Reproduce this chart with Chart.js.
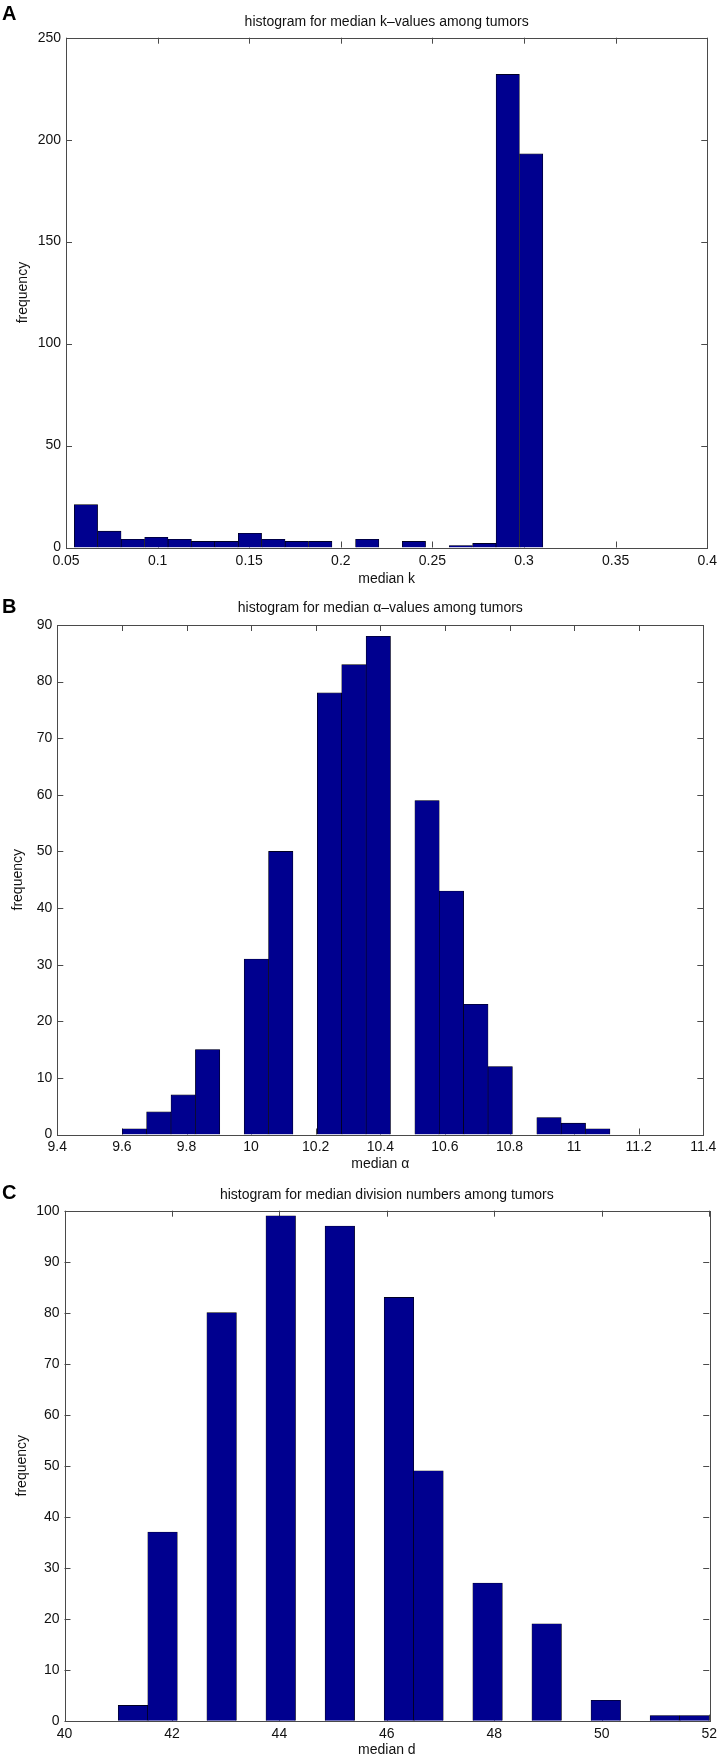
<!DOCTYPE html>
<html>
<head>
<meta charset="utf-8">
<script src="https://cdn.jsdelivr.net/npm/chart.js@4.4.1/dist/chart.umd.min.js"></script>
<style>
  html, body { margin: 0; padding: 0; background: #fff; }
  body { width: 722px; height: 1759px; position: relative; overflow: hidden; }
  canvas { position: absolute; left: 0; }
</style>
</head>
<body>
<canvas id="panelA" width="722" height="588" style="top:0px"></canvas>
<canvas id="panelB" width="722" height="583" style="top:590px"></canvas>
<canvas id="panelC" width="722" height="584" style="top:1175px"></canvas>
<script>
// A: median k (bin centres and counts)
const kBins = [0.0609, 0.0737, 0.0865, 0.0993, 0.1121, 0.1248, 0.1376, 0.1504, 0.1632, 0.1760,
               0.1888, 0.2016, 0.2144, 0.2272, 0.2399, 0.2527, 0.2655, 0.2783, 0.2911, 0.3039];
const kCounts = [21, 8, 4, 5, 4, 3, 3, 7, 4, 3, 3, 0, 4, 0, 3, 0, 1, 2, 232, 193];
const kTicks = [0.05, 0.1, 0.15, 0.2, 0.25, 0.3, 0.35, 0.4];
const kFreqTicks = [0, 50, 100, 150, 200, 250];

// B: median alpha
const alphaBins = [9.6388, 9.7143, 9.7898, 9.8653, 9.9408, 10.0163, 10.0918, 10.1673, 10.2428, 10.3183,
                   10.3938, 10.4693, 10.5448, 10.6203, 10.6958, 10.7713, 10.8468, 10.9223, 10.9978, 11.0733];
const alphaCounts = [1, 4, 7, 15, 0, 31, 50, 0, 78, 83, 88, 0, 59, 43, 23, 12, 0, 3, 2, 1];
const alphaTicks = [9.4, 9.6, 9.8, 10, 10.2, 10.4, 10.6, 10.8, 11, 11.2, 11.4];
const alphaFreqTicks = [0, 10, 20, 30, 40, 50, 60, 70, 80, 90];

// C: median division numbers
const dBins = [41.275, 41.825, 42.375, 42.925, 43.475, 44.025, 44.575, 45.125, 45.675, 46.225,
               46.775, 47.325, 47.875, 48.425, 48.975, 49.525, 50.075, 50.625, 51.175, 51.725];
const dCounts = [3, 37, 0, 80, 0, 99, 0, 97, 0, 83, 49, 0, 27, 0, 19, 0, 4, 0, 1, 1];
const dTicks = [40, 42, 44, 46, 48, 50, 52];
const dFreqTicks = [0, 10, 20, 30, 40, 50, 60, 70, 80, 90, 100];

const FONT = "'Liberation Sans', Arial, Helvetica, sans-serif";
const axisColor = '#4a4a4a';
const textColor = '#111';
const barColor = '#00008f';

// matlab style box: ticks pointing inwards on all four sides, title and panel letter
const matlabBox = {
  id: 'matlabBox',
  beforeDatasetsDraw(chart) {
    const { ctx, chartArea: a, scales: { x, y } } = chart;
    ctx.save();
    ctx.strokeStyle = axisColor;
    ctx.lineWidth = 1;
    ctx.beginPath();
    x.ticks.forEach(t => {
      const px = Math.round(x.getPixelForValue(t.value)) + 0.5;
      ctx.moveTo(px, a.bottom); ctx.lineTo(px, a.bottom - 6);
      ctx.moveTo(px, a.top); ctx.lineTo(px, a.top + 6);
    });
    y.ticks.forEach(t => {
      const py = Math.round(y.getPixelForValue(t.value)) + 0.5;
      ctx.moveTo(a.left, py); ctx.lineTo(a.left + 6, py);
      ctx.moveTo(a.right, py); ctx.lineTo(a.right - 6, py);
    });
    ctx.stroke();
    ctx.restore();
  },
  afterDatasetsDraw(chart, args, opts) {
    const { ctx, chartArea: a } = chart;
    ctx.save();
    ctx.strokeStyle = axisColor;
    ctx.lineWidth = 1;
    ctx.strokeRect(Math.round(a.left) + 0.5, Math.round(a.top) + 0.5,
                   Math.round(a.right - a.left), Math.round(a.bottom - a.top));
    ctx.fillStyle = textColor;
    ctx.textBaseline = 'middle';
    ctx.textAlign = 'center';
    ctx.font = '14px ' + FONT;
    ctx.fillText(opts.title, (a.left + a.right) / 2, opts.titleY);
    ctx.textAlign = 'left';
    ctx.font = 'bold 20px ' + FONT;
    ctx.fillStyle = '#000';
    ctx.fillText(opts.letter, 2, opts.letterY);
    ctx.restore();
  }
};

function histogram(id, bins, counts, xTicks, yTicks, xLabel, look) {
  new Chart(document.getElementById(id), {
    type: 'bar',
    data: {
      datasets: [{
        data: bins.map((b, i) => ({ x: b, y: counts[i] })),
        backgroundColor: barColor,
        borderColor: '#000',
        borderWidth: 0.6,
        barPercentage: 1,
        categoryPercentage: 1
      }]
    },
    options: {
      responsive: false,
      animation: false,
      layout: { padding: { left: 0, right: look.right, top: look.top, bottom: 0 } },
      scales: {
        x: {
          type: 'linear',
          offset: false,
          min: xTicks[0],
          max: xTicks[xTicks.length - 1],
          grid: { display: false, drawTicks: false, offset: false },
          border: { display: false },
          afterBuildTicks: s => { s.ticks = xTicks.map(v => ({ value: v })); },
          afterFit: s => { s.height = look.xHeight; },
          ticks: {
            autoSkip: false, maxRotation: 0, padding: look.xPad,
            color: textColor, font: { family: FONT, size: 14 },
            callback: v => String(v)
          },
          title: { display: true, text: xLabel, color: textColor, padding: 0, font: { family: FONT, size: 14 } }
        },
        y: {
          min: yTicks[0],
          max: yTicks[yTicks.length - 1],
          grid: { display: false, drawTicks: false },
          border: { display: false },
          afterBuildTicks: s => { s.ticks = yTicks.map(v => ({ value: v })); },
          afterFit: s => { s.width = look.left; },
          ticks: { padding: 5, color: textColor, font: { family: FONT, size: 14 } },
          title: { display: true, text: 'frequency', color: textColor, padding: { top: look.yTitlePad, bottom: 0 }, font: { family: FONT, size: 14 } }
        }
      },
      plugins: {
        legend: { display: false },
        tooltip: { enabled: false },
        matlabBox: { title: look.title, titleY: look.titleY, letter: look.letter, letterY: look.letterY }
      }
    },
    plugins: [matlabBox]
  });
}

histogram('panelA', kBins, kCounts, kTicks, kFreqTicks, 'median k', {
  left: 66, right: 10.5, top: 37.7, xHeight: 40.5, xPad: 5, yTitlePad: 14.6,
  title: 'histogram for median k\u2013values among tumors', titleY: 21.7, letter: 'A', letterY: 14
});
histogram('panelB', alphaBins, alphaCounts, alphaTicks, alphaFreqTicks, 'median \u03b1', {
  left: 57.3, right: 18.7, top: 35, xHeight: 38.5, xPad: 4, yTitlePad: 9.6,
  title: 'histogram for median \u03b1\u2013values among tumors', titleY: 18, letter: 'B', letterY: 17
});
histogram('panelC', dBins, dCounts, dTicks, dFreqTicks, 'median d', {
  left: 64.5, right: 8, top: 35.7, xHeight: 38.3, xPad: 5, yTitlePad: 14.1,
  title: 'histogram for median division numbers among tumors', titleY: 20, letter: 'C', letterY: 18
});
</script>
</body>
</html>
